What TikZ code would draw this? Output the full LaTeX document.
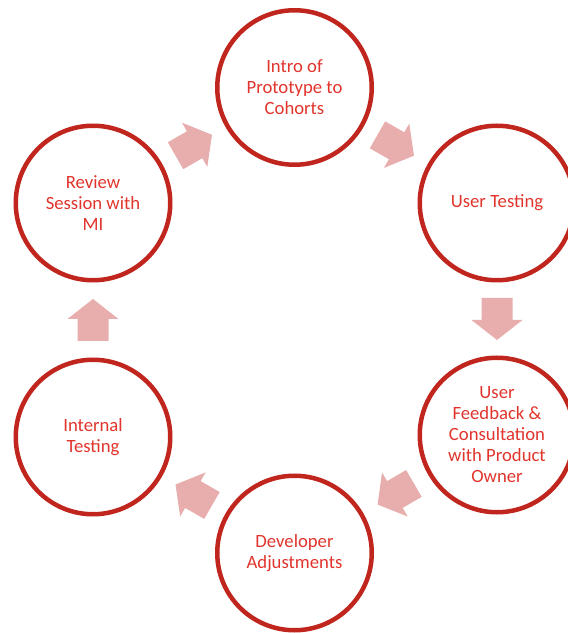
\documentclass[tikz,border=0pt]{standalone}
\usepackage{fontspec}
\setmainfont{Carlito}
\usetikzlibrary{calc}
\definecolor{ringred}{RGB}{192,38,30}
\definecolor{labelred}{RGB}{224,52,44}
\definecolor{arrowpink}{RGB}{232,173,173}
\tikzset{
  stage/.style={circle, draw=ringred, line width=4.5pt, minimum size=154.5pt,
    inner sep=0pt, text=labelred, align=center,
    font=\fontsize{18.7}{21}\selectfont},
  blockarrow/.pic={
    \fill[arrowpink] (-21,-15.5) -- (1,-15.5) -- (1,-25.5) -- (21,0)
      -- (1,25.5) -- (1,15.5) -- (-21,15.5) -- cycle;
  }
}
\begin{document}
\begin{tikzpicture}[x=1pt,y=1pt]
\useasboundingbox (0,0) rectangle (568,633);
\clip (0,0) rectangle (568,633);
% the six stages of the cycle
\node[stage] (intro)    at (294.5,545.5) {Intro of\\Prototype to\\Cohorts};
\node[stage] (user)     at (497,430)     {User Testing};
\node[stage] (feedback) at (497,198)     {User\\Feedback \&\\Consultation\\with Product\\Owner};
\node[stage] (dev)      at (294.5,80)    {Developer\\Adjustments};
\node[stage] (internal) at (93,196)      {Internal\\Testing};
\node[stage] (review)   at (93,430)      {Review\\Session with\\MI};
% block arrows half way between consecutive stages
\foreach \a/\b in {review/intro, intro/user, user/feedback,
                   feedback/dev, dev/internal, internal/review} {
  \path let \p1=($(\b)-(\a)$), \n1={atan2(\y1,\x1)} in
    pic[rotate=\n1] at ($(\a)!0.5!(\b)$) {blockarrow};
}
\end{tikzpicture}
\end{document}
